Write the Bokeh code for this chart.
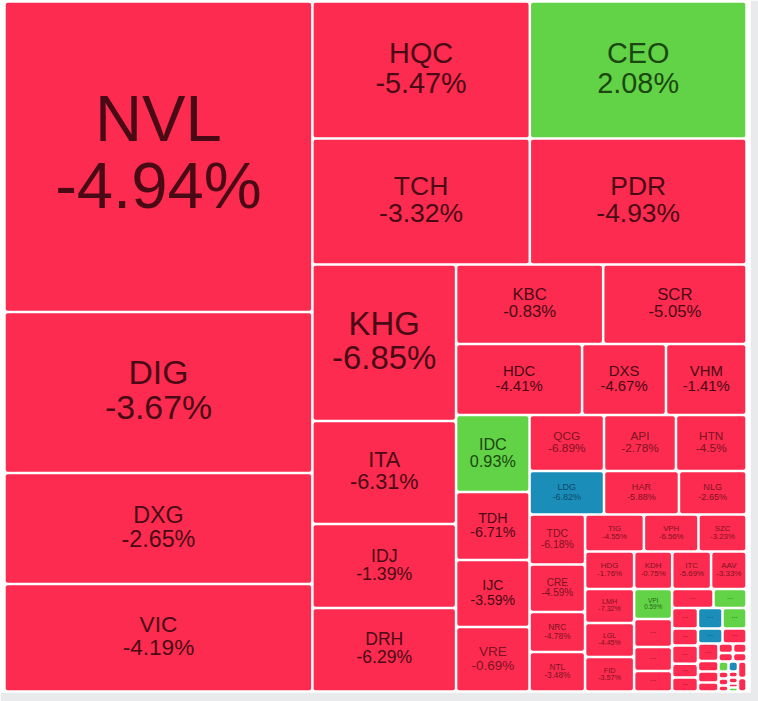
from bokeh.plotting import figure
from bokeh.models import ColumnDataSource, Range1d
from bokeh.embed import file_html
from bokeh.resources import INLINE
from bokeh.core.properties import value

# ---------------- data ----------------
tickers = ["NVL", "DIG", "DXG", "VIC", "HQC", "TCH", "CEO", "PDR",
           "KHG", "ITA", "IDJ", "DRH", "KBC", "SCR", "HDC", "DXS", "VHM",
           "IDC", "TDH", "IJC", "VRE", "QCG", "API", "HTN", "LDG", "HAR", "NLG",
           "TDC", "CRE", "NRC", "NTL", "TIG", "VPH", "SZC",
           "HDG", "LMH", "LGL", "FID", "KDH", "ITC", "AAV", "VPI"] + [""] * 33

changes = [-4.94, -3.67, -2.65, -4.19, -5.47, -3.32, 2.08, -4.93,
           -6.85, -6.31, -1.39, -6.29, -0.83, -5.05, -4.41, -4.67, -1.41,
           0.93, -6.71, -3.59, -0.69, -6.89, -2.78, -4.5, -6.82, -5.88, -2.65,
           -6.18, -4.59, -4.78, -3.48, -4.55, -6.56, -3.23,
           -1.76, -7.32, -4.45, -3.57, -0.75, -5.69, -3.33, 0.59] + [None] * 33

# traded value weights (tile areas)
weights = [956, 496, 342, 331, 298, 274, 297, 273,
           225, 148, 121, 120, 117, 114, 89.5, 59.6, 57.2,
           56.6, 50, 49.2, 47.4, 41.7, 40.3, 39.5, 32.4, 32.6, 29.4,
           27.8, 26.4, 22.2, 21.9, 21.8, 20.2, 17.8,
           18.4, 16.7, 16.7, 16.9, 14.3, 14.6, 13.3, 11.4,
           10.6, 9.1, 7.8,
           7.9, 6.3,
           5.3, 4.4, 4.7, 3.6, 3.6,
           5.0, 4.9, 3.7, 3.6,
           3.6, 2.15, 2.25, 1.85,
           1.38, 1.28, 1.23, 1.15,
           1.0, 0.7, 0.7, 0.6,
           0.95, 0.57, 0.57, 0.38, 0.38,
           1.4, 1.15]

# u = up, d = down, f = floor
status = (["d"] * 6 + ["u"] + ["d"] * 10 + ["u"] + ["d"] * 6 + ["f"] + ["d"] * 16 + ["u"]
          + ["d", "d", "d", "d", "u", "d", "d", "d", "d", "d",
             "f", "u", "f", "d", "d", "d", "d", "d", "d", "d", "d", "d",
             "u", "d", "d", "d", "f", "d", "d", "d", "u", "d", "d"])

# nesting of the treemap; each level alternates horizontal / vertical split
g_rest = [[64, 65, 66, 67], [68, 69, 70, 71, 72], [73, 74]]
g_nr = [[60, 61], [62, 63], g_rest]
g_n = [[56, 57, 58, 59], g_nr]
g_m = [[52, 53], [54, 55], g_n]
g_l = [[47, 48, 49, 50, 51], g_m]
g_k = [[45, 46], g_l]
g_j = [[41, 42, 43, 44], g_k]
g_i = [[38, 39, 40], g_j]
g_h = [[34, 35, 36, 37], g_i]
g_g = [[31, 32, 33], g_h]
g_f = [[27, 28, 29, 30], g_g]
g_e = [[21, 22, 23], [24, 25, 26], g_f]
g_d = [[17, 18, 19, 20], g_e]
g_c = [[12, 13], [14, 15, 16], g_d]
g_b2 = [[8, 9, 10, 11], g_c]
g_b1 = [[4, 5], [6, 7]]
tree = [[0, 1, 2, 3], [g_b1, g_b2]]

# ---------------- layout ----------------
def node_weight(n):
    if isinstance(n, int):
        return weights[n]
    return sum(node_weight(c) for c in n)

rects = {}

def layout(n, x0, y0, x1, y1, depth):
    if isinstance(n, int):
        rects[n] = (x0, y0, x1, y1)
        return
    tot = node_weight(n)
    pos = x0 if depth % 2 == 0 else y0
    for c in n:
        frac = node_weight(c) / tot
        if depth % 2 == 0:
            w = (x1 - x0) * frac
            layout(c, pos, y0, pos + w, y1, depth + 1)
            pos += w
        else:
            h = (y1 - y0) * frac
            layout(c, x0, pos, x1, pos + h, depth + 1)
            pos += h

FW, FH = 750, 692
layout(tree, 4, 1, 746, 691, 0)

fill = {"d": "#fd2b4f", "u": "#62d246", "f": "#1a8db8"}
dark = {"d": "#4a0a15", "u": "#1b4810", "f": "#0a3850"}
light = {"d": "#7d1224", "u": "#2a6318", "f": "#0f4a6a"}

gap = 1.25
SHIFT = 0.38  # renderer baseline correction (fraction of font size)
L, R, T, B, C = [], [], [], [], []
lx, ly, lt, lf, lc = [], [], [], [], []
for i in range(len(weights)):
    x0, y0, x1, y1 = rects[i]
    L.append(x0 + gap); R.append(x1 - gap); T.append(y0 + gap); B.append(y1 - gap)
    C.append(fill[status[i]])
    w = x1 - x0
    h = y1 - y0
    cx = (x0 + x1) / 2
    cy = (y0 + y1) / 2
    if tickers[i]:
        f = min(0.21 * h, w / 3.9)
        col = dark[status[i]] if f >= 14 else light[status[i]]
        lx += [cx, cx]
        ly += [cy - (0.21 + SHIFT) * f, cy + (0.82 - SHIFT) * f]
        lt += [tickers[i], format(changes[i], "g") + "%"]
        lf += ["%.1fpx" % f] * 2
        lc += [col, col]
    elif w >= 18 and h >= 11:
        f = 8 if h > 20 else 7
        lx.append(cx)
        ly.append(cy + (0.08 - SHIFT) * f)
        lt.append("...")
        lf.append("%dpx" % f)
        lc.append(light[status[i]])

p = figure(frame_width=FW, frame_height=FH, output_backend="svg", toolbar_location=None,
           x_range=Range1d(0, FW), y_range=Range1d(FH, 0),
           x_axis_location=None, y_axis_location=None,
           min_border_left=0, min_border_top=0, min_border_right=8, min_border_bottom=9)
p.grid.visible = False
p.outline_line_color = None
p.background_fill_color = "white"
p.border_fill_color = "#e8eaec"

p.quad(left="l", right="r", top="t", bottom="b", fill_color="c", line_color=None,
       border_radius=2,
       source=ColumnDataSource(dict(l=L, r=R, t=T, b=B, c=C)))
p.text(x="x", y="y", text="t", text_font_size="f", text_color="c",
       text_align="center", text_baseline="alphabetic",
       text_font=value("Liberation Sans"),
       source=ColumnDataSource(dict(x=lx, y=ly, t=lt, f=lf, c=lc)))

tmpl = """{% block postamble %}<style>html,body{margin:0;padding:0;overflow:hidden;}</style>{% endblock %}"""
open("out.html", "w").write(file_html(p, INLINE, template=tmpl))
